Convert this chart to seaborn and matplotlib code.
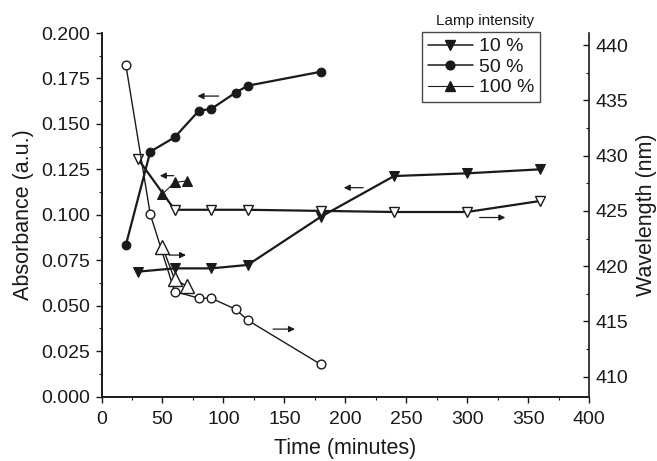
import matplotlib
matplotlib.use("Agg")
import matplotlib.pyplot as plt
import numpy as np
import pandas as pd
import seaborn as sns
from matplotlib.lines import Line2D
from matplotlib.ticker import MultipleLocator, FormatStrFormatter

# absorbance (left axis), filled markers
t_abs_10 = [30, 60, 90, 120, 180, 240, 300, 360]
abs_10 = [0.0687, 0.0705, 0.0705, 0.0724, 0.0989, 0.1213, 0.1228, 0.1250]
t_abs_50 = [20, 40, 60, 80, 90, 110, 120, 180]
abs_50 = [0.0834, 0.1347, 0.1426, 0.1573, 0.1582, 0.1672, 0.1710, 0.1787]
t_abs_100 = [50, 60, 70]
abs_100 = [0.1114, 0.1178, 0.1186]

# wavelength (right axis), open markers
t_wl_10 = [30, 60, 90, 120, 180, 240, 300, 360]
wl_10 = [429.7, 425.1, 425.1, 425.1, 425.0, 424.9, 424.9, 425.9]
t_wl_50 = [20, 40, 60, 80, 90, 110, 120, 180]
wl_50 = [438.2, 424.7, 417.7, 417.1, 417.1, 416.1, 415.1, 411.1]
t_wl_100 = [50, 60, 70]
wl_100 = [421.75, 418.8, 418.2]

legend_labels = ["10 %", "50 %", "100 %"]

sns.set_style("ticks")
plt.rcParams["font.family"] = ["Liberation Sans", "DejaVu Sans"]
ink = "#1a1a1a"

fig = plt.figure(figsize=(6.57, 4.61), dpi=100)
ax = fig.add_axes([0.1545, 0.1399, 0.742, 0.7885])
ax2 = ax.twinx()

# left axis series
sns.lineplot(x=t_abs_10, y=abs_10, ax=ax, color=ink, lw=1.6, marker="v",
             markersize=7.5, markerfacecolor=ink, markeredgecolor=ink)
sns.lineplot(x=t_abs_50, y=abs_50, ax=ax, color=ink, lw=1.6, marker="o",
             markersize=6.3, markerfacecolor=ink, markeredgecolor=ink)
sns.lineplot(x=t_abs_100, y=abs_100, ax=ax, color=ink, lw=0.8, marker="^",
             markersize=7.5, markerfacecolor=ink, markeredgecolor=ink)

# right axis series
sns.lineplot(x=t_wl_10, y=wl_10, ax=ax2, color=ink, lw=1.6, marker="v",
             markersize=7.5, markerfacecolor="white", markeredgecolor=ink, markeredgewidth=1)
sns.lineplot(x=t_wl_50, y=wl_50, ax=ax2, color=ink, lw=1.0, marker="o",
             markersize=6.3, markerfacecolor="white", markeredgecolor=ink, markeredgewidth=1)
sns.lineplot(x=t_wl_100, y=wl_100, ax=ax2, color=ink, lw=1.0, marker="^",
             markersize=9.5, markerfacecolor="white", markeredgecolor=ink, markeredgewidth=1)

ax.set_xlim(0, 400)
ax.set_ylim(0, 0.2)
ax2.set_ylim(408.2, 441.1)

ax.xaxis.set_major_locator(MultipleLocator(50))
ax.xaxis.set_minor_locator(MultipleLocator(25))
ax.yaxis.set_major_locator(MultipleLocator(0.025))
ax.yaxis.set_minor_locator(MultipleLocator(0.0125))
ax.yaxis.set_major_formatter(FormatStrFormatter("%.3f"))
ax2.yaxis.set_major_locator(MultipleLocator(5))
ax2.yaxis.set_minor_locator(MultipleLocator(2.5))

for a in (ax, ax2):
    a.spines["top"].set_visible(False)
    for s in a.spines.values():
        s.set_color(ink)
        s.set_linewidth(1.2)
ax.spines["right"].set_visible(False)

ax.tick_params(axis="both", which="major", direction="out", length=4.5, width=1,
               labelsize=14, colors=ink, pad=4)
ax.tick_params(axis="x", which="major", pad=6)
ax.tick_params(axis="both", which="minor", direction="out", length=2.5, width=0.8, colors=ink)
ax2.tick_params(axis="y", which="major", direction="in", length=4.5, width=1,
                labelsize=14, colors=ink, pad=5)
ax2.tick_params(axis="y", which="minor", direction="in", length=2.5, width=0.8, colors=ink)

ax.set_xlabel("Time (minutes)", fontsize=15.5, color=ink, labelpad=7)
ax.set_ylabel("Absorbance (a.u.)", fontsize=15.5, color=ink, labelpad=5)
ax2.set_ylabel("Wavelength (nm)", fontsize=15.5, color=ink, labelpad=5)

# arrows showing which axis each curve belongs to
arrow = dict(arrowstyle="-|>", color=ink, lw=0.9, mutation_scale=9)
ax.annotate("", xy=(76.5, 0.1653), xytext=(98.4, 0.1653), arrowprops=arrow)
ax.annotate("", xy=(45.6, 0.1215), xytext=(61.5, 0.1215), arrowprops=arrow)
ax.annotate("", xy=(196.5, 0.1149), xytext=(217, 0.1149), arrowprops=arrow)
ax2.annotate("", xy=(71.6, 421.0), xytext=(53.3, 421.0), arrowprops=arrow)
ax2.annotate("", xy=(161, 414.3), xytext=(138.5, 414.3), arrowprops=arrow)
ax2.annotate("", xy=(333.6, 424.4), xytext=(308, 424.4), arrowprops=arrow)

handles = [
    Line2D([], [], color=ink, lw=1.1, marker="v", markersize=7.5, markerfacecolor=ink, markeredgecolor=ink),
    Line2D([], [], color=ink, lw=1.1, marker="o", markersize=6.3, markerfacecolor=ink, markeredgecolor=ink),
    Line2D([], [], color=ink, lw=0.8, marker="^", markersize=7.5, markerfacecolor=ink, markeredgecolor=ink),
]
leg = ax2.legend(handles, legend_labels, loc="upper left", bbox_to_anchor=(0.658, 1.003),
                 fontsize=14, frameon=True, fancybox=False, edgecolor=ink,
                 handlelength=2.3, handletextpad=0.3, labelspacing=0.15,
                 borderpad=0.3, borderaxespad=0)
leg.get_frame().set_linewidth(1.0)
for txt in leg.get_texts():
    txt.set_color(ink)
fig.text(484.7 / 657, 1 - 21 / 461, "Lamp intensity", fontsize=11, color=ink,
         ha="center", va="center")

fig.savefig("out.png", dpi=100)
